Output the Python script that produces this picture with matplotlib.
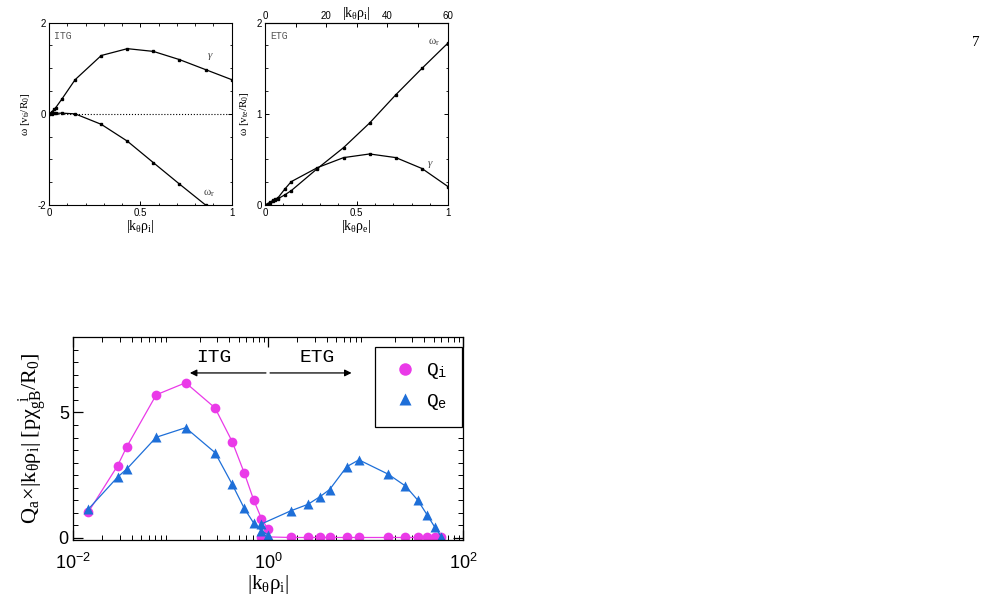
import matplotlib.pyplot as plt
import numpy as np
from matplotlib.ticker import MultipleLocator, LogLocator, NullFormatter, FixedLocator
from matplotlib.lines import Line2D

# ---- data ----
# linear ITG scan (k_theta rho_i)
itg_k = [0.0, 0.0143, 0.0286, 0.0357, 0.0714, 0.143, 0.286, 0.429, 0.571, 0.714, 0.857, 1.0]
itg_gamma = [0.0, 0.04, 0.10, 0.13, 0.33, 0.75, 1.28, 1.43, 1.37, 1.19, 0.97, 0.75]
itg_omega = [0.0, 0.005, 0.01, 0.012, 0.015, 0.0, -0.23, -0.60, -1.07, -1.54, -2.00, -2.35]

# linear ETG scan (k_theta rho_e)
etg_k = [0.0, 0.0143, 0.0286, 0.043, 0.057, 0.0714, 0.107, 0.143, 0.286, 0.429, 0.571, 0.714, 0.857, 1.0]
etg_omega = [0.0, 0.01, 0.025, 0.04, 0.055, 0.07, 0.11, 0.157, 0.40, 0.63, 0.90, 1.21, 1.50, 1.78]
etg_gamma = [0.0, 0.012, 0.03, 0.05, 0.065, 0.08, 0.172, 0.256, 0.41, 0.52, 0.56, 0.52, 0.40, 0.20]

# nonlinear flux spectra, Q_a * |k rho_i|
flux_k_itg = [0.0143, 0.0286, 0.0357, 0.0714, 0.143, 0.286, 0.429, 0.571, 0.714, 0.857, 1.0]
qi_itg = [1.02, 2.87, 3.64, 5.70, 6.18, 5.18, 3.84, 2.59, 1.51, 0.77, 0.36]
qe_itg = [1.14, 2.42, 2.75, 4.01, 4.39, 3.40, 2.14, 1.18, 0.59, 0.29, 0.12]

flux_k_etg = [0.857, 1.71, 2.57, 3.43, 4.29, 6.43, 8.57, 17.1, 25.7, 34.3, 42.9, 51.4, 60.0]
qi_etg = [0.05, 0.02, 0.02, 0.02, 0.02, 0.02, 0.02, 0.02, 0.02, 0.02, 0.02, 0.02, 0.02]
qe_etg = [0.56, 1.08, 1.34, 1.65, 1.93, 2.84, 3.11, 2.54, 2.07, 1.51, 0.92, 0.43, 0.05]

MASS_RATIO_SQRT = 60  # k rho_i = 60 k rho_e

SANS = 'Liberation Sans'
SERIF = 'Liberation Serif'
MONO = 'Liberation Mono'
MAGENTA = '#ea3ae8'
BLUE = '#1e6fd8'

plt.rcParams['font.family'] = SANS
plt.rcParams['mathtext.fontset'] = 'custom'
plt.rcParams['mathtext.rm'] = SERIF
plt.rcParams['mathtext.it'] = SERIF + ':italic'
plt.rcParams['mathtext.sf'] = SANS
plt.rcParams['mathtext.tt'] = MONO
plt.rcParams['xtick.direction'] = 'in'
plt.rcParams['ytick.direction'] = 'in'

fig = plt.figure(figsize=(9.92, 6.0), dpi=100)


def style_small(ax):
    ax.tick_params(which='both', top=True, right=True, labelsize=7, pad=2)
    ax.tick_params(which='major', length=3, width=0.7)
    ax.tick_params(which='minor', length=1.8, width=0.6)
    for s in ax.spines.values():
        s.set_linewidth(0.8)


# ---- top-left: ITG ----
ax1 = fig.add_axes([0.0494, 0.6583, 0.1842, 0.3039])
ax1.plot(itg_k, itg_gamma, color='black', lw=0.9, marker='s', ms=1.6)
ax1.plot(itg_k, itg_omega, color='black', lw=0.9, marker='s', ms=1.6)
ax1.axhline(0, color='black', lw=0.8, ls=':')
ax1.set_xlim(0, 1)
ax1.set_ylim(-2, 2)
ax1.xaxis.set_major_locator(FixedLocator([0, 0.5, 1]))
ax1.xaxis.set_minor_locator(MultipleLocator(0.1))
ax1.yaxis.set_major_locator(FixedLocator([-2, 0, 2]))
ax1.yaxis.set_minor_locator(MultipleLocator(0.5))
ax1.set_xticklabels(['0', '0.5', '1'])
ax1.set_yticklabels(['-2', '0', '2'])
style_small(ax1)
ax1.set_xlabel(r'$\mathrm{|k_\theta\rho_i|}$', fontsize=10, labelpad=0)
ax1.set_ylabel(r'$\mathrm{\omega\ [v_{ti}/R_0]}$', fontsize=8, labelpad=4)
ax1.text(0.03, 0.955, 'ITG', transform=ax1.transAxes, family=MONO, fontsize=7,
         color='#555555', va='top')
ax1.text(0.885, 1.25, r'$\gamma$', fontsize=8, color='#444444', ha='center', va='center')
ax1.text(0.875, -1.74, r'$\mathrm{\omega_r}$', fontsize=8, color='#444444', ha='center', va='center')

# ---- top-right: ETG ----
ax2 = fig.add_axes([0.2671, 0.6583, 0.1848, 0.3039])
ax2.plot(etg_k, etg_omega, color='black', lw=0.9, marker='s', ms=1.6)
ax2.plot(etg_k, etg_gamma, color='black', lw=0.9, marker='s', ms=1.6)
ax2.set_xlim(0, 1)
ax2.set_ylim(0, 2)
ax2.xaxis.set_major_locator(FixedLocator([0, 0.5, 1]))
ax2.xaxis.set_minor_locator(MultipleLocator(0.1))
ax2.yaxis.set_major_locator(FixedLocator([0, 1, 2]))
ax2.yaxis.set_minor_locator(MultipleLocator(0.25))
ax2.set_xticklabels(['0', '0.5', '1'])
ax2.set_yticklabels(['0', '1', '2'])
style_small(ax2)
ax2.tick_params(which='both', top=False)
ax2.set_xlabel(r'$\mathrm{|k_\theta\rho_e|}$', fontsize=10, labelpad=0)
ax2.set_ylabel(r'$\mathrm{\omega\ [v_{te}/R_0]}$', fontsize=8, labelpad=4)
ax2.text(0.03, 0.955, 'ETG', transform=ax2.transAxes, family=MONO, fontsize=7,
         color='#555555', va='top')
ax2.text(0.92, 1.79, r'$\mathrm{\omega_r}$', fontsize=8, color='#444444', ha='center', va='center')
ax2.text(0.90, 0.44, r'$\gamma$', fontsize=8, color='#444444', ha='center', va='center')

top = ax2.secondary_xaxis('top', functions=(lambda x: x * MASS_RATIO_SQRT,
                                             lambda x: x / MASS_RATIO_SQRT))
top.xaxis.set_major_locator(FixedLocator([0, 20, 40, 60]))
top.xaxis.set_minor_locator(MultipleLocator(10))
top.tick_params(which='both', direction='in', labelsize=7, pad=1)
top.tick_params(which='major', length=3, width=0.7)
top.tick_params(which='minor', length=3, width=0.7)
top.set_xlabel(r'$\mathrm{|k_\theta\rho_i|}$', fontsize=10, labelpad=-4)

# ---- bottom: flux spectra ----
ax3 = fig.add_axes([0.0736, 0.1, 0.3931, 0.3383])
mk = dict(ms=7, mec='none')
ax3.plot(flux_k_itg, qi_itg, color=MAGENTA, lw=0.9, marker='o', **mk)
ax3.plot(flux_k_etg, qi_etg, color=MAGENTA, lw=0.9, marker='o', **mk)
ax3.plot(flux_k_itg, qe_itg, color=BLUE, lw=0.9, marker='^', **mk)
ax3.plot(flux_k_etg, qe_etg, color=BLUE, lw=0.9, marker='^', **mk)
ax3.set_xscale('log')
ax3.set_xlim(1e-2, 1e2)
ax3.set_ylim(-0.08, 8.0)
ax3.xaxis.set_major_locator(FixedLocator([1e-2, 1e0, 1e2]))
ax3.xaxis.set_minor_locator(LogLocator(base=10, subs=np.arange(2, 10)))
ax3.xaxis.set_minor_formatter(NullFormatter())
ax3.set_xticklabels([r'$\mathsf{10^{-2}}$', r'$\mathsf{10^{0}}$', r'$\mathsf{10^{2}}$'])
ax3.yaxis.set_major_locator(FixedLocator([0, 5]))
ax3.yaxis.set_minor_locator(MultipleLocator(0.5))
ax3.set_yticklabels(['0', '5'])
ax3.tick_params(which='both', top=True, right=True, labelsize=13)
ax3.tick_params(axis='x', pad=9)
ax3.tick_params(axis='y', pad=3)
ax3.tick_params(which='major', length=7, width=0.9)
ax3.tick_params(which='minor', length=3.5, width=0.7)
for s in ax3.spines.values():
    s.set_linewidth(0.9)
ax3.set_xlabel(r'$\mathrm{|k_\theta\rho_i|}$', fontsize=15, labelpad=0)
ax3.set_ylabel(r'$\mathrm{Q_a\!\times\!|k_\theta\rho_i|\ [p\chi_{gB}^{\ \ i}/R_0]}$',
               fontsize=16, labelpad=6)

# ITG / ETG arrows
ax3.annotate('', xy=(0.158, 6.57), xytext=(0.953, 6.57),
             arrowprops=dict(arrowstyle='-|>', color='black', lw=0.9,
                             mutation_scale=10, shrinkA=0, shrinkB=0))
ax3.annotate('', xy=(7.2, 6.57), xytext=(1.05, 6.57),
             arrowprops=dict(arrowstyle='-|>', color='black', lw=0.9,
                             mutation_scale=10, shrinkA=0, shrinkB=0))
ax3.text(0.279, 7.17, 'ITG', family=MONO, fontsize=14, ha='center', va='center')
ax3.text(3.18, 7.17, 'ETG', family=MONO, fontsize=14, ha='center', va='center')

handles = [Line2D([], [], color=MAGENTA, marker='o', ls='none', ms=9, mec='none'),
           Line2D([], [], color=BLUE, marker='^', ls='none', ms=9, mec='none')]
leg = ax3.legend(handles, ['Q$_\\mathtt{i}$', 'Q$_\\mathtt{e}$'], loc='upper right',
                 bbox_to_anchor=(0.998, 0.952), borderaxespad=0, fancybox=False,
                 framealpha=1, edgecolor='black', prop={'family': MONO, 'size': 14},
                 handletextpad=0.3, borderpad=0.75, labelspacing=0.55, handlelength=1.6)
leg.get_frame().set_linewidth(0.9)

# page number
fig.text(0.988, 0.93, '7', family=SERIF, fontsize=11, ha='right', va='center')

fig.savefig('out.png', dpi=100)
